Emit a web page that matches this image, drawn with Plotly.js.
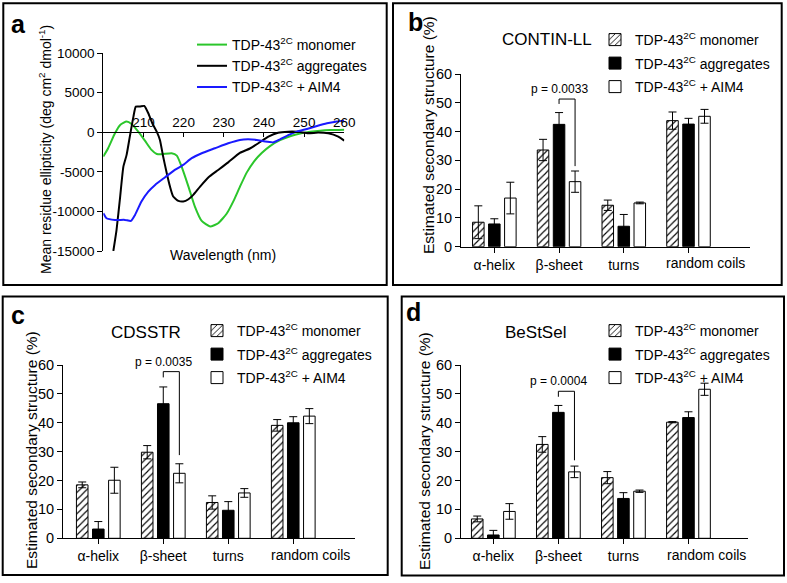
<!DOCTYPE html>
<html><head><meta charset="utf-8">
<script src="https://cdn.plot.ly/plotly-3.0.1.min.js"></script>
<style>html,body{margin:0;padding:0;background:#fff}</style>
</head><body><div id="chart" style="width:787px;height:583px"></div>
<script>
// ---------- Panel a: CD spectra ----------
const wlMonomer=[200,201.2,202.9,204.2,205.8,207.1,208.7,210.4,212,213.3,214.5,217,218.3,219.5,221.2,222.8,224.5,226.6,228.6,230.7,232.4,234,235.7,237.5,239.5,241.5,244,246.5,249,251.5,254,256.5,260];
const cdMonomer=[-3070,-2020,-130,930,1350,1010,80,-1090,-2230,-2740,-2780,-2650,-2950,-4340,-6860,-9390,-11200,-11910,-11490,-10300,-8700,-6900,-5100,-3700,-2600,-1750,-1000,-500,-150,60,200,280,330];
const wlAggregates=[202.5,203.3,204.2,205,205.8,206.6,207.5,208.1,209.1,210.2,211.2,212.2,213.3,214.1,214.9,215.8,216.6,217.4,218.7,219.9,221.2,222.4,224.1,226.2,228.6,231.1,234,236.5,238.6,241.1,243.5,246,248.5,251,253.5,256,258.5,260];
const cdAggregates=[-15000,-12330,-8120,-4340,-2860,-550,1980,3240,3240,3330,2400,1140,80,-970,-3070,-5180,-6860,-8120,-8670,-8750,-8460,-7910,-6860,-5680,-4760,-3800,-2600,-2050,-1390,-550,-50,80,60,-130,-40,-130,-550,-1060];
const wlAIM4=[200,200.8,202.9,205.4,206.9,207.9,209.5,211.2,212.9,215.4,217.8,219.9,222,224.5,227.8,231.1,234,236,238.2,240.3,242.4,244,246.2,248.2,250.7,253.2,255.7,258.2,260];
const cdAIM4=[-10230,-10860,-11070,-11070,-11200,-10440,-8750,-7490,-6650,-5680,-4760,-4120,-3280,-2650,-2020,-1390,-970,-890,-970,-1180,-1270,-890,-340,80,420,800,1130,1350,1470];
const wlTicks=[210,220,230,240,250,260];
const cdTickVals=[10000,5000,0,-5000,-10000,-15000];
const cdTickText=['10000','5000','0','-5000','-10000','-15000'];

// ---------- Panels b-d: secondary structure ----------
const seriesNames=['TDP-43<sup>2C</sup> monomer','TDP-43<sup>2C</sup> aggregates','TDP-43<sup>2C</sup> + AIM4'];
const categories=['α-helix','β-sheet','turns','random coils'];
const catIndex=[0,1,2,3];

const continMonomer=[8.5,33.6,14.4,43.8],   continMonomerErr=[5.7,3.7,1.8,3.0];
const continAggregates=[7.9,42.5,7.1,42.6], continAggregatesErr=[1.8,4.1,4.1,2.0];
const continAIM4=[16.9,22.6,15.2,45.3],     continAIM4Err=[5.5,3.7,0.3,2.4];

const cdsstrMonomer=[18.5,29.8,12.4,39.1],   cdsstrMonomerErr=[1.0,2.3,2.3,2.0];
const cdsstrAggregates=[3.2,46.6,9.7,40.0],  cdsstrAggregatesErr=[2.6,5.8,3.0,2.1];
const cdsstrAIM4=[20.1,22.5,15.7,42.3],      cdsstrAIM4Err=[4.5,3.3,1.5,2.6];

const bestselMonomer=[6.7,32.5,21.0,40.2],   bestselMonomerErr=[1.0,2.7,2.1,0.2];
const bestselAggregates=[1.15,43.6,13.8,41.8],bestselAggregatesErr=[1.6,2.4,2.0,2.0];
const bestselAIM4=[9.3,23.0,16.3,51.6],      bestselAIM4Err=[2.7,2.0,0.4,2.1];

const pValues=['p = 0.0033','p = 0.0035','p = 0.0004'];
const bracketTop=[51.3,57.7,50.9];
const bracketLeftEnd=[49.6,55.7,49.0];
const bracketRightEnd=[28.0,28.8,27.0];
const methodTitles=['CONTIN-LL','CDSSTR','BeStSel'];

// ---------- helpers ----------
const W=787,H=583;
const px=x=>x/W, py=y=>1-y/H;
const FONT='Liberation Sans, Arial, Helvetica, sans-serif';
const BARGAP=0.258, BARGROUPGAP=0.28;
const slot=(1-BARGAP)/3;
const LAST_LABEL_SHIFT=0.27; // "random coils" label sits right of its tick, as in the original

const traces=[];
traces.push({x:wlMonomer,y:cdMonomer,type:'scatter',mode:'lines',name:seriesNames[0],line:{color:'#2bc62b',width:2,shape:'spline',smoothing:0.5},xaxis:'x',yaxis:'y',legend:'legend'});
traces.push({x:wlAggregates,y:cdAggregates,type:'scatter',mode:'lines',name:seriesNames[1],line:{color:'#000000',width:2,shape:'spline',smoothing:0.5},xaxis:'x',yaxis:'y',legend:'legend'});
traces.push({x:wlAIM4,y:cdAIM4,type:'scatter',mode:'lines',name:seriesNames[2],line:{color:'#1a1aff',width:2,shape:'spline',smoothing:0.5},xaxis:'x',yaxis:'y',legend:'legend'});

const panels=[
  {ax:'2',legend:'legend2',data:[[continMonomer,continMonomerErr],[continAggregates,continAggregatesErr],[continAIM4,continAIM4Err]]},
  {ax:'3',legend:'legend3',data:[[cdsstrMonomer,cdsstrMonomerErr],[cdsstrAggregates,cdsstrAggregatesErr],[cdsstrAIM4,cdsstrAIM4Err]]},
  {ax:'4',legend:'legend4',data:[[bestselMonomer,bestselMonomerErr],[bestselAggregates,bestselAggregatesErr],[bestselAIM4,bestselAIM4Err]]}
];
const barStyles=[
  {color:'#ffffff',line:{color:'#000',width:1},pattern:{shape:'/',fgcolor:'#000',bgcolor:'#fff',size:5,solidity:0.22}},
  {color:'#000000',line:{color:'#000',width:1}},
  {color:'#ffffff',line:{color:'#000',width:1}}
];
panels.forEach((p,pi)=>{
  p.data.forEach((d,si)=>{
    traces.push({type:'bar',x:catIndex,y:d[0],name:seriesNames[si],marker:barStyles[si],legendgroup:'p'+pi+'s'+si,
      error_y:{type:'data',array:d[1],visible:true,color:'#000',thickness:1,width:4},
      xaxis:'x'+p.ax,yaxis:'y'+p.ax,legend:p.legend,hoverinfo:'y'});
  });
  const bx=1, wx=1+slot;
  traces.push({type:'scatter',mode:'lines',x:[bx,bx,wx,wx],y:[bracketLeftEnd[pi],bracketTop[pi],bracketTop[pi],bracketRightEnd[pi]],
    line:{color:'#000',width:1},showlegend:false,hoverinfo:'skip',xaxis:'x'+p.ax,yaxis:'y'+p.ax});
});

const catText=categories.map((c,i)=>i===3?'':c);

function barX(d0,d1,r0,r1,anchor){
  return {domain:[px(d0),px(d1)],range:[r0,r1],anchor:anchor,tickvals:catIndex,ticktext:catText,tickangle:0,automargin:false,
    ticks:'outside',ticklen:5,tickwidth:1,tickcolor:'#000',showline:true,linecolor:'#000',linewidth:1,
    showgrid:false,zeroline:false,tickfont:{size:14,family:FONT,color:'#000'},fixedrange:true};
}
function barY(top,bottom,anchor){
  return {domain:[py(bottom),py(top)],range:[0,60],anchor:anchor,dtick:10,tick0:0,automargin:false,
    ticks:'outside',ticklen:5,tickwidth:1,tickcolor:'#000',showline:true,linecolor:'#000',linewidth:1,
    showgrid:false,zeroline:false,tickfont:{size:14.5,family:FONT,color:'#000'},fixedrange:true};
}
function legendAt(left,top){
  return {x:px(left),y:py(top),xanchor:'left',yanchor:'top',bgcolor:'rgba(0,0,0,0)',borderwidth:0,
    font:{size:14,family:FONT,color:'#000'},itemwidth:30,tracegroupgap:2.3};
}

const ann=[];
function txt(t,x,y,size,extra){ann.push(Object.assign({text:t,x:px(x),y:py(y),xref:'paper',yref:'paper',showarrow:false,
  xanchor:'center',yanchor:'middle',font:{size:size,family:FONT,color:'#000'}},extra||{}));}
txt('<b>a</b>',18,24,25);
txt('<b>b</b>',415,22,25);
txt('<b>c</b>',18,315,25);
txt('<b>d</b>',413,312,25);
txt(methodTitles[0],546.7,40,17);
txt(methodTitles[1],146,332,17);
txt(methodTitles[2],535,332,17);
txt('Mean residue ellipticity (deg cm<sup>2</sup> dmol<sup>-1</sup>)',45,150,14,{textangle:-90});
txt('Wavelength (nm)',223,255,14);
txt('Estimated secondary structure (%)',428,135,15.5,{textangle:-90});
txt('Estimated secondary structure (%)',31,450,15.5,{textangle:-90});
txt('Estimated secondary structure (%)',424,451,15.5,{textangle:-90});
['2','3','4'].forEach((a,i)=>{
  ann.push({text:pValues[i],x:1,y:bracketTop[i],xref:'x'+a,yref:'y'+a,showarrow:false,xanchor:'center',yanchor:'bottom',yshift:1,
    font:{size:12,family:FONT,color:'#000'}});
  ann.push({text:categories[3],x:catIndex[3]+LAST_LABEL_SHIFT,y:0,xref:'x'+a,yref:'y'+a,showarrow:false,xanchor:'center',yanchor:'middle',yshift:-16.5,
    font:{size:14,family:FONT,color:'#000'}});
});

const shapes=[[3.3,3.3,386.7,285],[393,3.3,781.7,285],[2.7,296.5,387.7,575],[401.7,296.5,784,575.5]].map(r=>({
  type:'rect',xref:'paper',yref:'paper',x0:px(r[0]),x1:px(r[2]),y0:py(r[3]),y1:py(r[1]),line:{color:'#000',width:2},fillcolor:'rgba(0,0,0,0)'}));

const layout={
  width:W,height:H,margin:{l:0,r:0,t:0,b:0},paper_bgcolor:'#fff',plot_bgcolor:'rgba(0,0,0,0)',
  font:{family:FONT,color:'#000'},barmode:'group',bargap:BARGAP,bargroupgap:BARGROUPGAP,
  xaxis:{domain:[px(103.3),px(344.3)],range:[200,260],anchor:'free',position:py(132.3),side:'top',automargin:false,
    tickvals:wlTicks,ticks:'inside',ticklen:4,tickcolor:'#000',showline:true,linecolor:'#000',linewidth:1,
    showgrid:false,zeroline:false,tickfont:{size:13.5,family:FONT,color:'#000'},fixedrange:true},
  yaxis:{domain:[py(251),py(53.1)],range:[-15000,10000],anchor:'x',tickvals:cdTickVals,ticktext:cdTickText,automargin:false,
    ticks:'outside',ticklen:5,tickcolor:'#000',showline:true,linecolor:'#000',linewidth:1,
    showgrid:false,zeroline:false,tickfont:{size:13.5,family:FONT,color:'#000'},fixedrange:true},
  xaxis2:barX(461,750,-0.515,3.95,'y2'), yaxis2:barY(74,246.7,'x2'),
  xaxis3:barX(63,355,-0.543,3.95,'y3'),  yaxis3:barY(365,538.3,'x3'),
  xaxis4:barX(461,748.3,-0.497,3.92,'y4'),yaxis4:barY(365,538.3,'x4'),
  legend:legendAt(192,29),
  legend2:legendAt(595,24),
  legend3:legendAt(197,315),
  legend4:legendAt(595,315),
  annotations:ann,shapes:shapes,showlegend:true
};
layout.legend.tracegroupgap=0;
Plotly.newPlot('chart',traces,layout,{staticPlot:true,displayModeBar:false});
</script></body></html>
